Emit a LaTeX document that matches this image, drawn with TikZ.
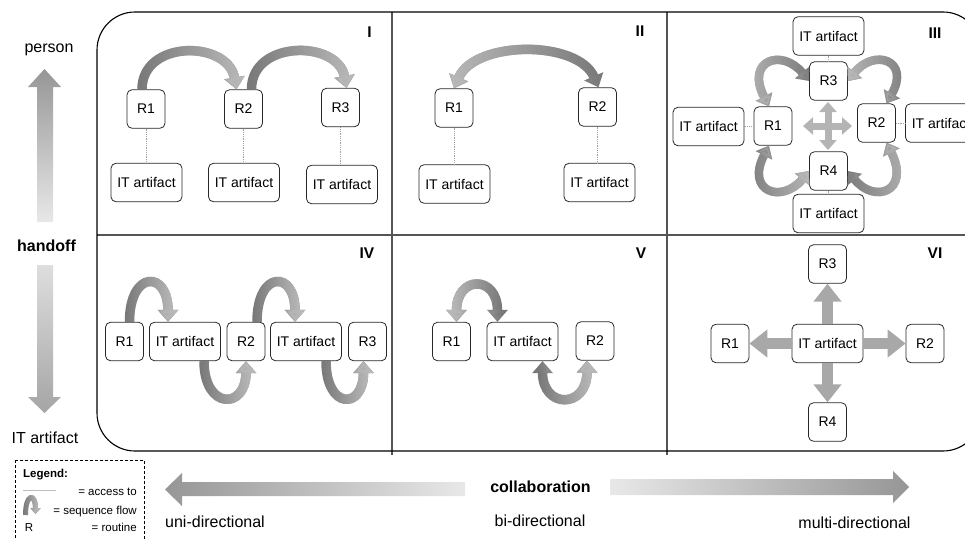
\documentclass[tikz,border=0pt]{standalone}
\usepackage{fontspec}
\setmainfont{Liberation Sans}
\usetikzlibrary{arrows.meta,fadings,calc}
\definecolor{adark}{RGB}{120,120,120}
\definecolor{alight}{RGB}{184,184,184}
\definecolor{boxline}{RGB}{40,40,40}
\definecolor{divline}{RGB}{85,85,85}
\definecolor{accline}{RGB}{160,160,160}
\definecolor{sixg}{RGB}{168,168,168}
\definecolor{crossg}{RGB}{180,180,180}
\definecolor{gA}{RGB}{150,150,150}
\definecolor{gB}{RGB}{232,232,232}
\definecolor{gC}{RGB}{222,222,222}
\definecolor{gD}{RGB}{165,165,165}
\newcommand\gradpath[3]{%
  \draw[#1, adark] #3;
  \draw[#1, alight, path fading=#2] #3;
}
\tikzset{
  basebox/.style={draw=boxline, line width=0.8pt, rounded corners=5pt, fill=white, inner sep=0pt, font=\fontsize{14}{16}\selectfont},
  rbox/.style={basebox, minimum width=38pt, minimum height=38.5pt},
  itbox/.style={basebox, minimum width=71pt, minimum height=38.5pt},
  access/.style={draw=accline, line width=0.8pt, dash pattern=on 1pt off 0.8pt},
  legline/.style={draw=accline!70!white, line width=0.8pt},
  flowI/.style={line width=9.5pt, -{Triangle[length=12pt,width=20pt]}},
  flowII/.style={line width=9.5pt, {Triangle[length=12pt,width=20pt]}-{Triangle[length=12pt,width=20pt]}},
  flowIII/.style={line width=8.5pt, {Triangle[length=11pt,width=18pt]}-{Triangle[length=11pt,width=18pt]}},
  legflow/.style={line width=5pt, -{Triangle[length=6pt,width=10pt]}},
  crossarr/.style={draw=crossg, line width=7pt, {Triangle[length=10pt,width=17pt]}-{Triangle[length=10pt,width=17pt]}},
  sixarr/.style={draw=sixg, line width=11pt, -{Triangle[length=18pt,width=27pt]}},
  plabel/.style={font=\fontsize{15.5}{18}\selectfont\bfseries, inner sep=0pt},
  olabel/.style={font=\fontsize{16}{19}\selectfont, inner sep=0pt, anchor=base},
  leg/.style={font=\fontsize{11.5}{13}\selectfont, inner sep=0pt},
  divider/.style={draw=divline, line width=1.3pt},
}
\begin{document}
\begin{tikzpicture}[x=1pt,y=-1pt]
\useasboundingbox (0,0) rectangle (965,538);
% grid and frame
\draw[divider] (392,12) -- (392,455);
\draw[divider] (667,12) -- (667,455);
\draw[divider] (97,235) -- (981,235);
\draw[line width=1.1pt, rounded corners=38pt] (97,12) rectangle (981,451);
% axis arrows
\shade[top color=gA, bottom color=gB] (37,222) -- (37,87) -- (28,87) -- (44.5,69) -- (61,87) -- (53,87) -- (53,222) -- cycle;
\shade[top color=gC, bottom color=gD] (37,265) -- (37,397) -- (28,397) -- (44.5,413) -- (61,397) -- (53,397) -- (53,265) -- cycle;
\shade[left color=gA, right color=gB] (465,482) -- (182,482) -- (182,473) -- (165,489.5) -- (182,506) -- (182,496) -- (465,496) -- cycle;
\shade[left color=gB, right color=gA] (610,479) -- (893,479) -- (893,471) -- (909,487) -- (893,503) -- (893,495) -- (610,495) -- cycle;
% labels
\node[olabel] (person) at (49,52) {person};
\node[olabel] (handoff) at (46.5,251) {\bfseries handoff};
\node[olabel] (itlab) at (45,443) {IT artifact};
\node[olabel] (uni) at (215,527) {uni-directional};
\node[olabel] (collab) at (540.5,492) {\bfseries collaboration};
\node[olabel] (bi) at (540,526) {bi-directional};
\node[olabel] (multi) at (854.5,528) {multi-directional};
\node[plabel] (lI) at (369.5,32) {I};
\node[plabel] (lII) at (640,31.5) {II};
\node[plabel] (lIII) at (935,33) {III};
\node[plabel] (lIV) at (367,253.5) {IV};
\node[plabel] (lV) at (641,253.5) {V};
\node[plabel] (lVI) at (935,253.5) {VI};
% Panel I
\node[rbox] (r11) at (146,109) {R1};
\node[rbox] (r12) at (243.5,109) {R2};
\node[rbox] (r13) at (340.5,107.5) {R3};
\node[itbox] (i11) at (146.5,182.5) {IT artifact};
\node[itbox] (i12) at (244,182.5) {IT artifact};
\node[itbox] (i13) at (342,184.5) {IT artifact};
\draw[access] (r11.south) -- (r11.south |- i11.north);
\draw[access] (r12.south) -- (r12.south |- i12.north);
\draw[access] (r13.south) -- (r13.south |- i13.north);
\gradpath{flowI}{west}{([xshift=-4pt]r11.north) .. controls (142,39.5) and (228,40) .. ([xshift=-7pt]r12.north)}
\gradpath{flowI}{west}{([xshift=8pt]r12.north) .. controls (251.5,39.5) and (338,40) .. ([xshift=6pt]r13.north)}
% Panel II
\node[rbox] (r21) at (454,108) {R1};
\node[rbox] (r22) at (597.5,107) {R2};
\node[itbox] (i21) at (454.5,184) {IT artifact};
\node[itbox] (i22) at (599.5,182.5) {IT artifact};
\draw[access] (r21.south) -- (r21.south |- i21.north);
\draw[access] (r22.south) -- (r22.south |- i22.north);
\gradpath{flowII}{east}{(r21.north) .. controls (475,40) and (578,40) .. ([xshift=1pt]r22.north)}
% Panel III
\node[rbox] (r31) at (773,126) {R1};
\node[rbox] (r32) at (876.5,123) {R2};
\node[rbox] (r33) at (828.5,81) {R3};
\node[rbox] (r34) at (828.5,171) {R4};
\node[itbox] (i31) at (708.5,126.5) {IT artifact};
\node[itbox] (i32) at (941,123) {IT artifact};
\node[itbox] (i33) at (828.5,36) {IT artifact};
\node[itbox] (i34) at (828.5,213.5) {IT artifact};
\draw[access] (i33.south) -- (i33.south |- r33.north);
\draw[access] (r31.west) -- (r31.west -| i31.east);
\draw[access] (r32.east) -- (r32.east -| i32.west);
\draw[access] (r34.south) -- (r34.south |- i34.north);
\gradpath{flowIII}{east}{([xshift=-4pt]r31.north) .. controls (745,60) and (782,48) .. (r33.west)}
\gradpath{flowIII}{east}{(r33.east) .. controls (874,48) and (911,60) .. ([xshift=10pt]r32.north)}
\gradpath{flowIII}{west}{([xshift=-4pt]r31.south) .. controls (745,192) and (782,204) .. (r34.west)}
\gradpath{flowIII}{west}{(r34.east) .. controls (874,204) and (911,192) .. ([xshift=10pt]r32.south)}
\coordinate (c3) at (828,126);
\draw[crossarr] ($(c3)+(0,-24)$) -- ($(c3)+(0,24)$);
\draw[crossarr] ($(c3)+(-25,0)$) -- ($(c3)+(24,0)$);
% Panel IV
\node[rbox] (r41) at (124.5,341.5) {R1};
\node[itbox] (i41) at (185,341.5) {IT artifact};
\node[rbox] (r42) at (246,341.5) {R2};
\node[itbox] (i42) at (306,341.5) {IT artifact};
\node[rbox] (r43) at (367.5,341.5) {R3};
\gradpath{flowI}{west}{([xshift=5pt]r41.north) .. controls (129.5,270) and (168,270) .. ([xshift=-17pt]i41.north)}
\gradpath{flowI}{west}{([xshift=19pt]i41.south) .. controls (204,410) and (246,410) .. (r42.south)}
\gradpath{flowI}{west}{([xshift=11pt]r42.north) .. controls (257,270) and (295,270) .. ([xshift=-11pt]i42.north)}
\gradpath{flowI}{west}{([xshift=20pt]i42.south) .. controls (326,410) and (363.5,410) .. ([xshift=-4pt]r43.south)}
% Panel V
\node[rbox] (r51) at (451.5,341.5) {R1};
\node[itbox] (i5) at (522.5,341.5) {IT artifact};
\node[rbox] (r52) at (595,341) {R2};
\gradpath{flowII}{east}{([xshift=5pt]r51.north) .. controls (456.5,275) and (497.5,275) .. ([xshift=-25pt]i5.north)}
\gradpath{flowII}{west}{([xshift=20pt]i5.south) .. controls (542.5,409) and (587,409) .. ([xshift=-8pt]r52.south)}
% Panel VI
\node[rbox] (r63) at (827.5,264) {R3};
\node[rbox] (r61) at (730,343.5) {R1};
\node[itbox] (i6) at (827.5,343.5) {IT artifact};
\node[rbox] (r62) at (925,343.5) {R2};
\node[rbox] (r64) at (827.5,422) {R4};
\draw[sixarr] (i6.north) -- (r63.south);
\draw[sixarr] (i6.west) -- (r61.east);
\draw[sixarr] (i6.east) -- (r62.west);
\draw[sixarr] (i6.south) -- (r64.north);
% Legend
\draw[line width=0.8pt, dash pattern=on 3pt off 2pt] (15,460) rectangle (144,560);
\node[leg, anchor=base west] (legt) at (23,477) {\bfseries Legend:};
\coordinate (la1) at (23,490);
\coordinate (la2) at (56,490);
\draw[legline] (la1) -- (la2);
\node[leg, anchor=base east] (leg1) at (137,495) {= access to};
\coordinate (lg1) at (25.5,515);
\coordinate (lg2) at (35.5,514);
\gradpath{legflow}{west}{(lg1) .. controls (25.5,493) and (35.5,493) .. (lg2)}
\node[leg, anchor=base east] (leg2) at (137,514) {= sequence flow};
\node[leg, anchor=base] (legR) at (29,531) {R};
\node[leg, anchor=base east] (leg3) at (137,531) {= routine};
\end{tikzpicture}
\end{document}
